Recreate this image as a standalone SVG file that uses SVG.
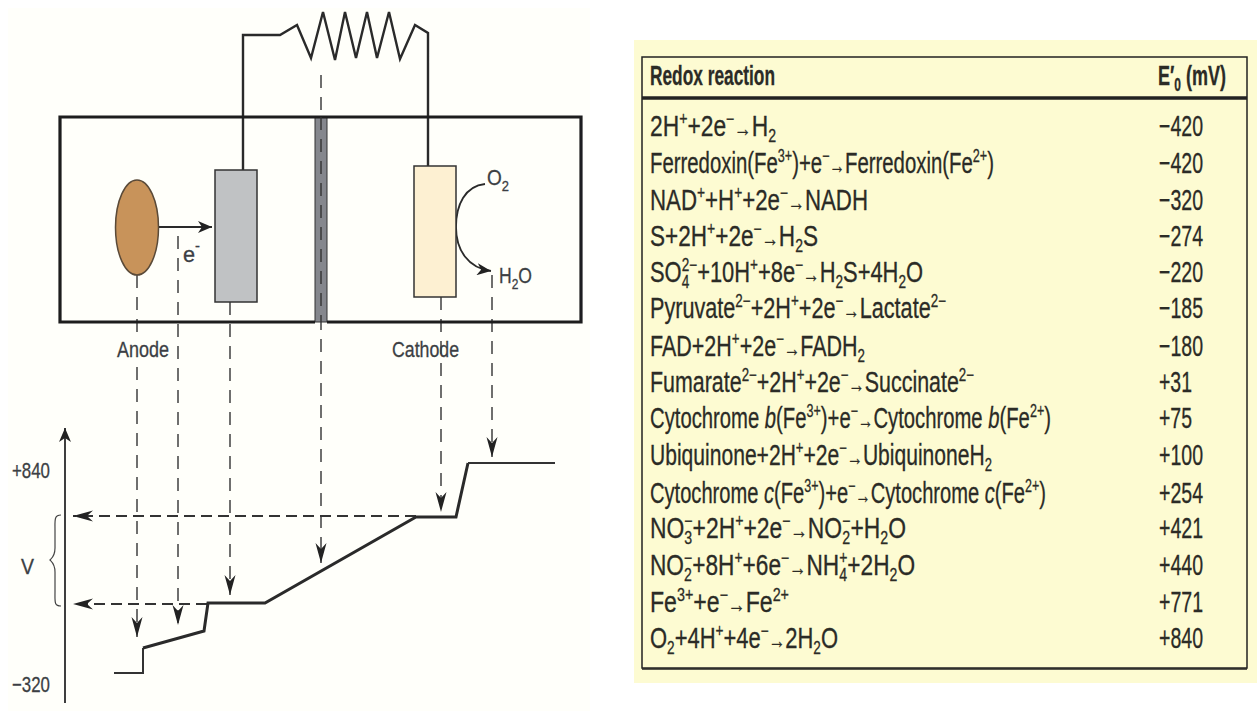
<svg xmlns="http://www.w3.org/2000/svg" width="1257" height="711" viewBox="0 0 1257 711">
<style>
text{font-family:"Liberation Sans",Arial,sans-serif;fill:#2b2b26;stroke:#2b2b26;stroke-width:.3px}
.lab{font-size:22px;fill:#3c3f44;stroke:#3c3f44}
.row{font-size:29px}
.hd{font-size:27px;font-weight:bold}
.sup{font-size:18px;baseline-shift:11px}
.sub{font-size:18px;baseline-shift:-6px}
.lab .sub{font-size:15px}
.lab .sup{font-size:15px}
.ar{font-size:22px}
.wire{fill:none;stroke:#2a2a2a;stroke-width:2.4}
.box{fill:none;stroke:#1d1d1d;stroke-width:3.2}
.dash{fill:none;stroke:#333;stroke-width:1.4;stroke-dasharray:13 9}
.hdash{fill:none;stroke:#333;stroke-width:2;stroke-dasharray:11 6}
.thin{fill:none;stroke:#2a2a2a;stroke-width:1.8}
</style>
<defs>
<marker id="ah" markerUnits="userSpaceOnUse" markerWidth="16" markerHeight="12" refX="14" refY="6" orient="auto"><path d="M0 0L14 6L0 12L4 6Z" fill="#222"/></marker>
<marker id="ad" markerUnits="userSpaceOnUse" markerWidth="22" markerHeight="14" refX="20" refY="7" orient="auto"><path d="M0 1.500L20 7L0 12.500L6 7Z" fill="#222"/></marker>
</defs>
<rect width="1257" height="711" fill="#fff"/>
<rect x="8" y="8" width="582" height="703" fill="#fffffa"/>
<rect x="634" y="40" width="623" height="643" fill="#fdfbd2"/>

<g id="connectors">
<path class="wire" d="M243 170V35H280L297 25L311 58L323 12L335 60L345 12L356 58L367 12L377 58L389 12L400 59L415 25L428 33V166"/>
<path class="dash" d="M137 275V335"/>
<path class="dash" d="M137 367V637" marker-end="url(#ad)"/>
<path class="dash" d="M178 236V625" marker-end="url(#ad)"/>
<path class="dash" d="M230 302V595" marker-end="url(#ad)"/>
<path class="dash" d="M321 75V563" marker-end="url(#ad)"/>
<path class="dash" d="M441 297V512" marker-end="url(#ad)"/>
<path class="dash" d="M492 275V457" marker-end="url(#ad)"/>
<path class="hdash" d="M416 516H73" marker-end="url(#ad)"/>
<path class="hdash" d="M207 604H73" marker-end="url(#ad)"/>
<path class="thin" d="M159 227H212" marker-end="url(#ah)"/>
<path class="thin" d="M485 184C465 186 456 205 456 227C456 250 468 268 491 271" marker-end="url(#ah)"/>
<path class="thin" d="M65 703V428" marker-end="url(#ah)"/>
<path fill="none" stroke="#333" stroke-width="2" d="M114 673H143V648"/>
<path fill="none" stroke="#2a2a2a" stroke-width="3" d="M143 648L204 631L208 603H265L416 517H456L468 463"/>
<path fill="none" stroke="#333" stroke-width="2" d="M468 463H555"/>
<path fill="none" stroke="#444" stroke-width="1.200" d="M61 515C54 515 55 520 55 530V548C55 556 52 558 50 560C52 562 55 564 55 572V592C55 602 54 606 61 606"/>
</g>

<g id="cell">
<rect x="315" y="117" width="12" height="205" fill="#85878d" stroke="#333" stroke-width="1"/>
<path class="box" d="M315 117H60V322H315M327 117H581V322H327M315 117H327"/>
</g>
<g id="anode-microbe"><ellipse cx="137" cy="227.500" rx="21.500" ry="47.500" fill="#c8935a" stroke="#5a4a38" stroke-width="1.500"/></g>
<g id="anode-electrode"><rect x="215" y="170" width="42" height="132" fill="#c0c2c4" stroke="#333" stroke-width="1.500"/></g>
<g id="cathode-electrode"><rect x="414" y="166" width="42" height="131" fill="#fdf0d2" stroke="#333" stroke-width="1.500"/></g>
<g id="dash-overlay"><path class="dash" d="M321 117V322"/></g>

<g id="labels">
<text class="lab" x="183" y="262" textLength="17" lengthAdjust="spacingAndGlyphs">e<tspan class="sup">-</tspan></text>
<text class="lab" x="487" y="185" textLength="22" lengthAdjust="spacingAndGlyphs">O<tspan class="sub">2</tspan></text>
<text class="lab" x="499" y="283" textLength="33" lengthAdjust="spacingAndGlyphs">H<tspan class="sub">2</tspan>O</text>
<text class="lab" x="117" y="357" textLength="52" lengthAdjust="spacingAndGlyphs">Anode</text>
<text class="lab" x="392" y="357" textLength="67" lengthAdjust="spacingAndGlyphs">Cathode</text>
<text class="lab" x="12" y="478" textLength="38" lengthAdjust="spacingAndGlyphs">+840</text>
<text class="lab" x="12" y="692" textLength="38" lengthAdjust="spacingAndGlyphs">−320</text>
<text class="lab" x="21" y="574" textLength="13" lengthAdjust="spacingAndGlyphs">V</text>
</g>

<g id="table">
<rect x="642" y="57" width="605" height="611" fill="none" stroke="#222" stroke-width="1.500"/>
<path d="M642 98H1247" stroke="#222" stroke-width="3.500"/>
<path d="M642 669H1247" stroke="#222" stroke-width="1.500"/>
<text class="hd" x="650" y="85" textLength="125" lengthAdjust="spacingAndGlyphs">Redox reaction</text>
<text class="hd" x="1158" y="85" textLength="68" lengthAdjust="spacingAndGlyphs">E′<tspan class="sub">0</tspan> (mV)</text>

<text class="row" x="650" y="136" textLength="126" lengthAdjust="spacingAndGlyphs">2H<tspan class="sup">+</tspan>+2e<tspan class="sup">−</tspan><tspan class="ar">→</tspan>H<tspan class="sub">2</tspan></text>
<text class="row" x="650" y="173" textLength="344" lengthAdjust="spacingAndGlyphs">Ferredoxin(Fe<tspan class="sup">3+</tspan>)+e<tspan class="sup">−</tspan><tspan class="ar">→</tspan>Ferredoxin(Fe<tspan class="sup">2+</tspan>)</text>
<text class="row" x="650" y="210" textLength="218" lengthAdjust="spacingAndGlyphs">NAD<tspan class="sup">+</tspan>+H<tspan class="sup">+</tspan>+2e<tspan class="sup">−</tspan><tspan class="ar">→</tspan>NADH</text>
<text class="row" x="650" y="246" textLength="168" lengthAdjust="spacingAndGlyphs">S+2H<tspan class="sup">+</tspan>+2e<tspan class="sup">−</tspan><tspan class="ar">→</tspan>H<tspan class="sub">2</tspan>S</text>
<text class="row" x="650" y="282" textLength="273" lengthAdjust="spacingAndGlyphs">SO<tspan class="sub">4</tspan><tspan class="sup" dx="-10">2−</tspan>+10H<tspan class="sup">+</tspan>+8e<tspan class="sup">−</tspan><tspan class="ar">→</tspan>H<tspan class="sub">2</tspan>S+4H<tspan class="sub">2</tspan>O</text>
<text class="row" x="650" y="318" textLength="296" lengthAdjust="spacingAndGlyphs">Pyruvate<tspan class="sup">2−</tspan>+2H<tspan class="sup">+</tspan>+2e<tspan class="sup">−</tspan><tspan class="ar">→</tspan>Lactate<tspan class="sup">2−</tspan></text>
<text class="row" x="650" y="356" textLength="215" lengthAdjust="spacingAndGlyphs">FAD+2H<tspan class="sup">+</tspan>+2e<tspan class="sup">−</tspan><tspan class="ar">→</tspan>FADH<tspan class="sub">2</tspan></text>
<text class="row" x="650" y="392" textLength="324" lengthAdjust="spacingAndGlyphs">Fumarate<tspan class="sup">2−</tspan>+2H<tspan class="sup">+</tspan>+2e<tspan class="sup">−</tspan><tspan class="ar">→</tspan>Succinate<tspan class="sup">2−</tspan></text>
<text class="row" x="650" y="428" textLength="401" lengthAdjust="spacingAndGlyphs">Cytochrome <tspan font-style="italic">b</tspan>(Fe<tspan class="sup">3+</tspan>)+e<tspan class="sup">−</tspan><tspan class="ar">→</tspan>Cytochrome <tspan font-style="italic">b</tspan>(Fe<tspan class="sup">2+</tspan>)</text>
<text class="row" x="650" y="465" textLength="342" lengthAdjust="spacingAndGlyphs">Ubiquinone+2H<tspan class="sup">+</tspan>+2e<tspan class="sup">−</tspan><tspan class="ar">→</tspan>UbiquinoneH<tspan class="sub">2</tspan></text>
<text class="row" x="650" y="503" textLength="396" lengthAdjust="spacingAndGlyphs">Cytochrome <tspan font-style="italic">c</tspan>(Fe<tspan class="sup">3+</tspan>)+e<tspan class="sup">−</tspan><tspan class="ar">→</tspan>Cytochrome <tspan font-style="italic">c</tspan>(Fe<tspan class="sup">2+</tspan>)</text>
<text class="row" x="650" y="538" textLength="256" lengthAdjust="spacingAndGlyphs">NO<tspan class="sub">3</tspan><tspan class="sup" dx="-10">−</tspan>+2H<tspan class="sup">+</tspan>+2e<tspan class="sup">−</tspan><tspan class="ar">→</tspan>NO<tspan class="sub">2</tspan><tspan class="sup" dx="-10">−</tspan>+H<tspan class="sub">2</tspan>O</text>
<text class="row" x="650" y="575" textLength="265" lengthAdjust="spacingAndGlyphs">NO<tspan class="sub">2</tspan><tspan class="sup" dx="-10">−</tspan>+8H<tspan class="sup">+</tspan>+6e<tspan class="sup">−</tspan><tspan class="ar">→</tspan>NH<tspan class="sub">4</tspan><tspan class="sup" dx="-10">+</tspan>+2H<tspan class="sub">2</tspan>O</text>
<text class="row" x="650" y="612" textLength="139" lengthAdjust="spacingAndGlyphs">Fe<tspan class="sup">3+</tspan>+e<tspan class="sup">−</tspan><tspan class="ar">→</tspan>Fe<tspan class="sup">2+</tspan></text>
<text class="row" x="650" y="648" textLength="188" lengthAdjust="spacingAndGlyphs">O<tspan class="sub">2</tspan>+4H<tspan class="sup">+</tspan>+4e<tspan class="sup">−</tspan><tspan class="ar">→</tspan>2H<tspan class="sub">2</tspan>O</text>

<text class="row" x="1159" y="136" textLength="44" lengthAdjust="spacingAndGlyphs">−420</text>
<text class="row" x="1159" y="173" textLength="44" lengthAdjust="spacingAndGlyphs">−420</text>
<text class="row" x="1159" y="210" textLength="44" lengthAdjust="spacingAndGlyphs">−320</text>
<text class="row" x="1159" y="246" textLength="44" lengthAdjust="spacingAndGlyphs">−274</text>
<text class="row" x="1159" y="282" textLength="44" lengthAdjust="spacingAndGlyphs">−220</text>
<text class="row" x="1159" y="318" textLength="44" lengthAdjust="spacingAndGlyphs">−185</text>
<text class="row" x="1159" y="356" textLength="44" lengthAdjust="spacingAndGlyphs">−180</text>
<text class="row" x="1159" y="392" textLength="33" lengthAdjust="spacingAndGlyphs">+31</text>
<text class="row" x="1159" y="428" textLength="33" lengthAdjust="spacingAndGlyphs">+75</text>
<text class="row" x="1159" y="465" textLength="44" lengthAdjust="spacingAndGlyphs">+100</text>
<text class="row" x="1159" y="503" textLength="44" lengthAdjust="spacingAndGlyphs">+254</text>
<text class="row" x="1159" y="538" textLength="44" lengthAdjust="spacingAndGlyphs">+421</text>
<text class="row" x="1159" y="575" textLength="44" lengthAdjust="spacingAndGlyphs">+440</text>
<text class="row" x="1159" y="612" textLength="44" lengthAdjust="spacingAndGlyphs">+771</text>
<text class="row" x="1159" y="648" textLength="44" lengthAdjust="spacingAndGlyphs">+840</text>
</g>
</svg>
